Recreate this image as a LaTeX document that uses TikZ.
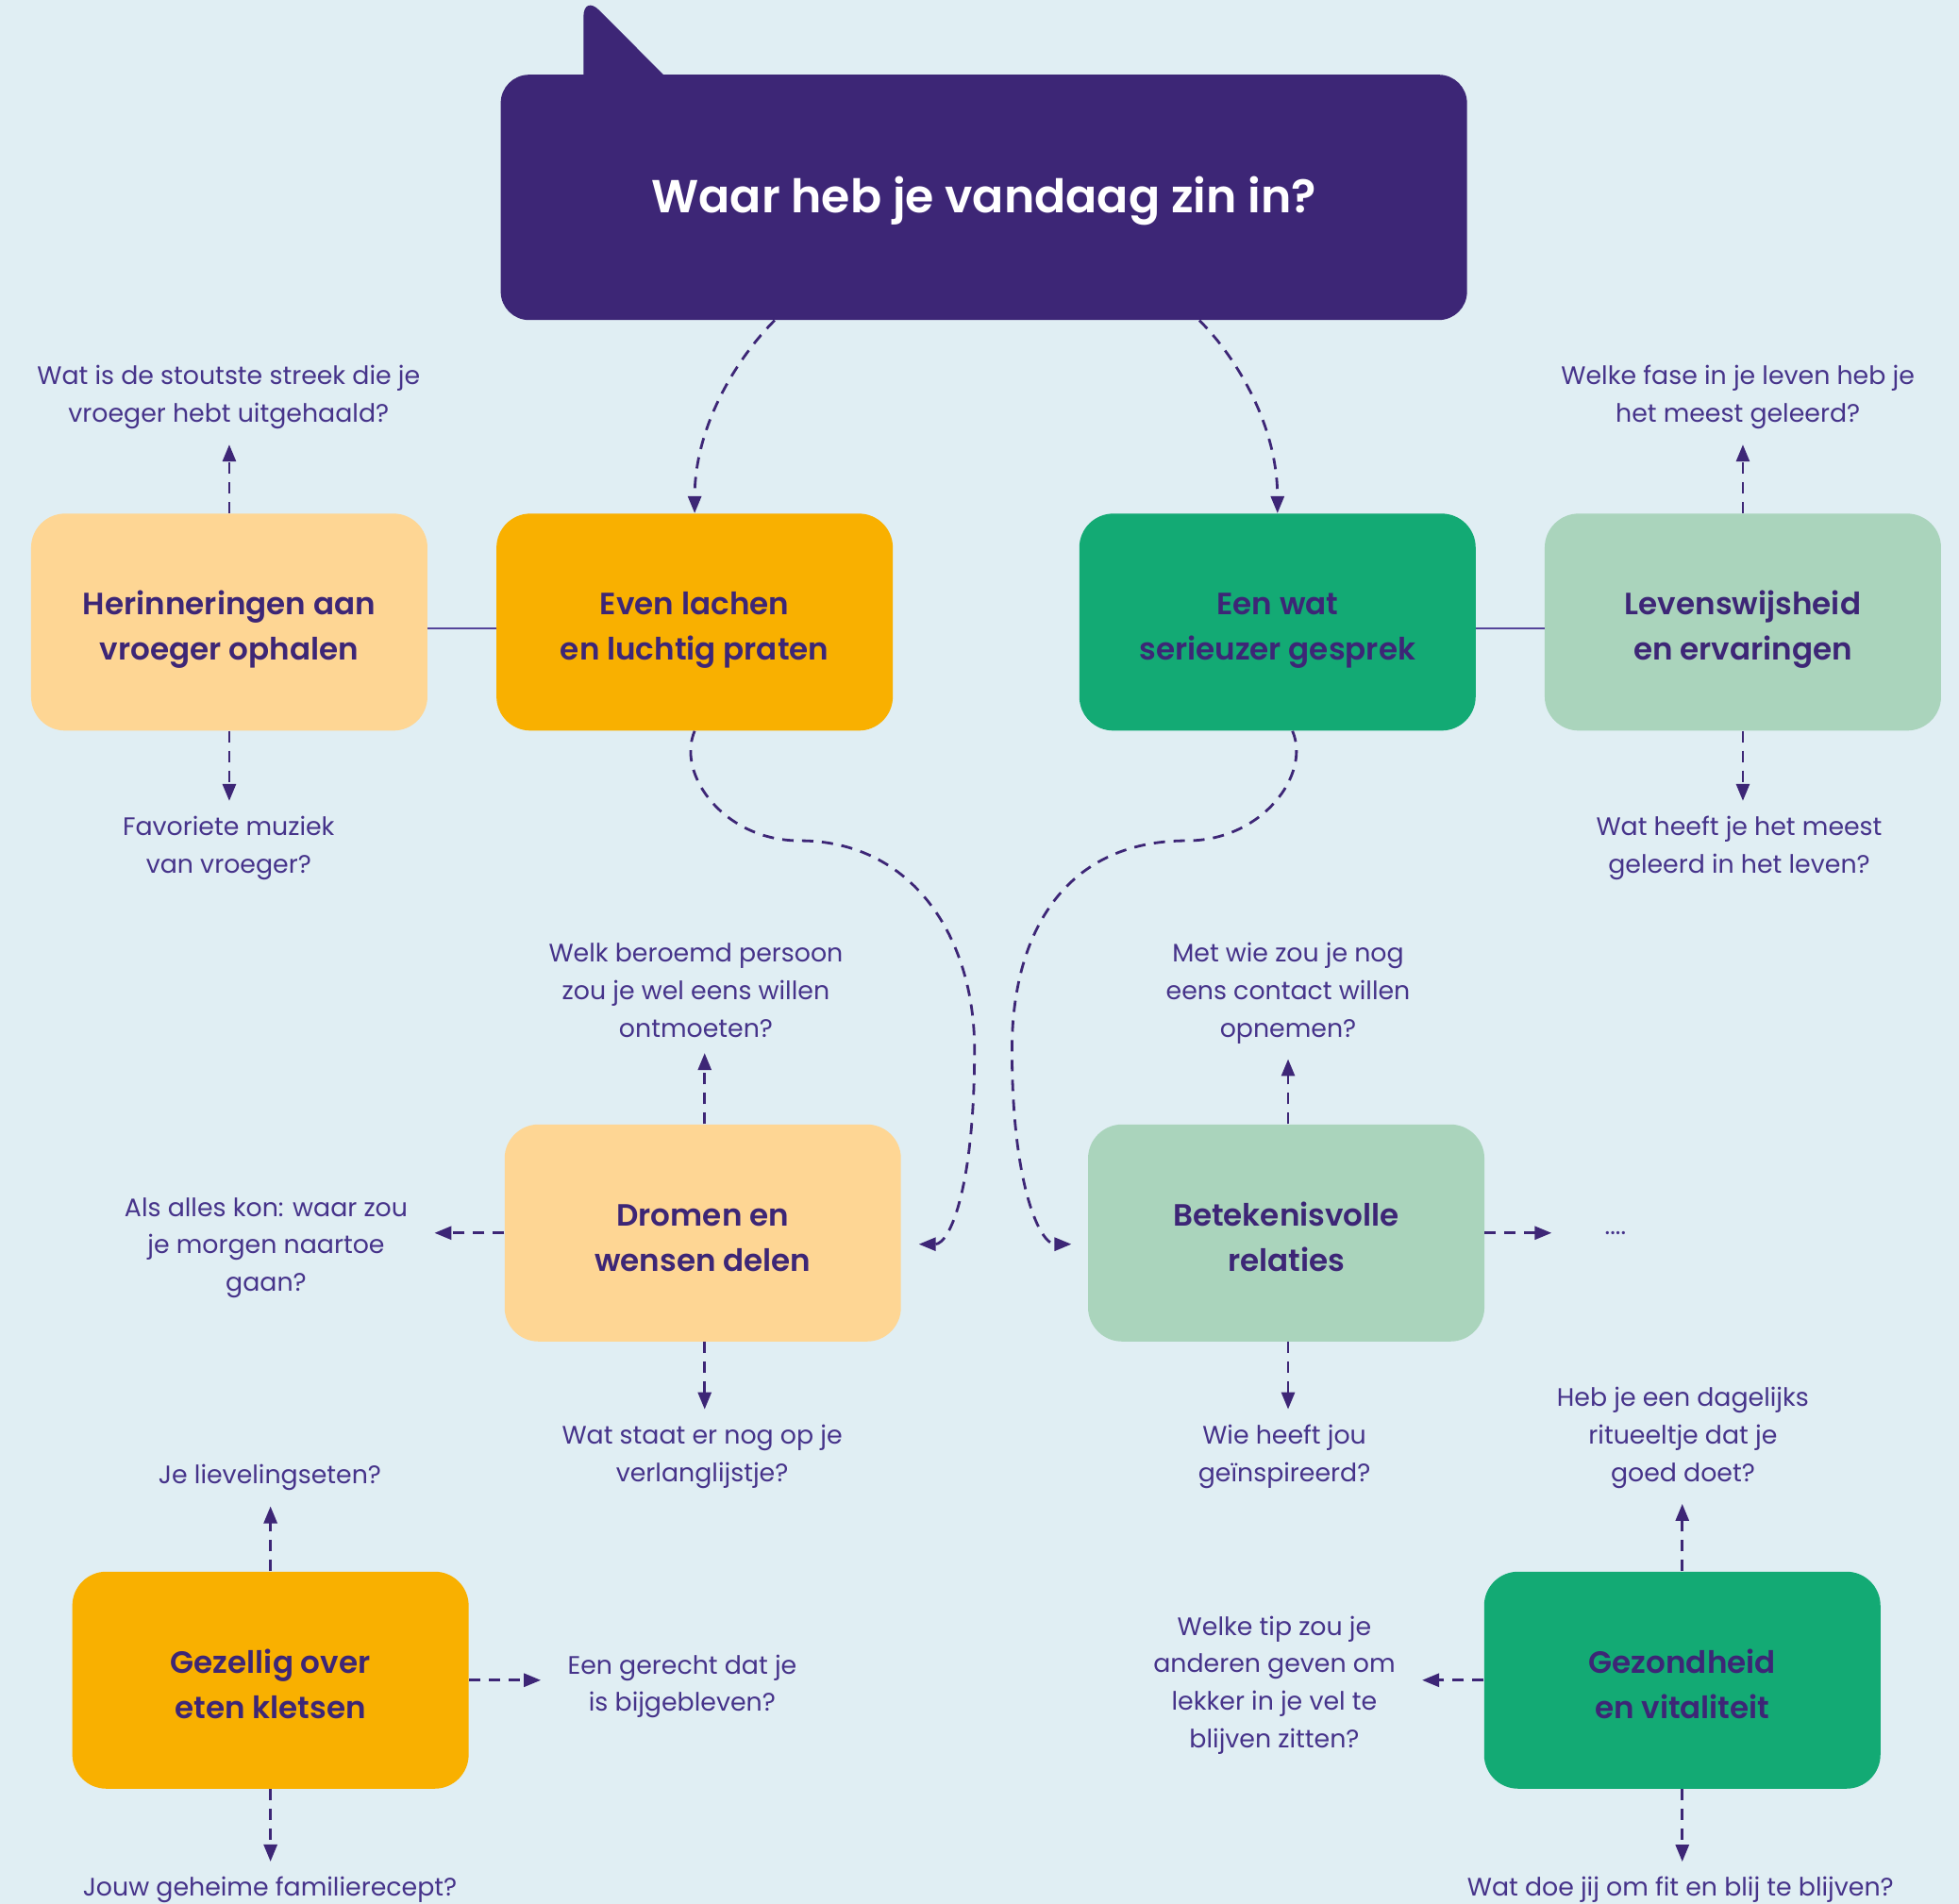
\documentclass[tikz,border=0pt]{standalone}
\usepackage{fontspec}
\setmainfont{Poppins}
\newfontfamily\semib{Poppins SemiBold}
\usetikzlibrary{arrows.meta,calc}
\definecolor{bg}{HTML}{E0EEF3}
\definecolor{pur}{HTML}{3D2676}
\definecolor{qtxt}{HTML}{46338A}
\definecolor{linkc}{HTML}{55459A}
\definecolor{orng}{HTML}{F9B000}
\definecolor{lorng}{HTML}{FED694}
\definecolor{grn}{HTML}{13AA74}
\definecolor{lgrn}{HTML}{AAD4BC}
\newcommand{\lbtop}{\rule{0pt}{20.5pt}}
\newcommand{\lbbot}{\rule[-3.5pt]{0pt}{3.5pt}}
\begin{document}
\begin{tikzpicture}[x=0.662pt,y=-0.662pt,
  box/.style={rounded corners=18pt, minimum width=210pt, minimum height=115pt, align=center,
    font=\fontsize{16.3}{24}\selectfont\semib, text=pur, inner sep=0pt},
  q/.style={align=center, font=\fontsize{13.4}{19.9}\selectfont, text=qtxt, inner xsep=14pt, inner ysep=8pt, yshift=-2pt},
  arr/.style={draw=pur, line width=1.4pt, dash pattern=on 6pt off 4.5pt, -{Triangle[length=9pt,width=7pt]}},
  link/.style={draw=linkc, line width=1.1pt}
]
\useasboundingbox (0,0) rectangle (1568,1524);
\fill[bg] (0,0) rectangle (1568,1524);
% title bubble
\fill[pur, rounded corners=12pt] (467,100) -- (467,-4.5) -- (571,100) -- cycle;
\node[fill=pur, rounded corners=15pt, minimum width=512pt, minimum height=130pt, inner sep=0pt,
  text=white, font=\fontsize{24.5}{30}\selectfont\semib] (T) at (787.5,158)
  {\raisebox{-2pt}[\height][\depth]{Waar heb je vandaag zin in?}};

% boxes
\node[box, fill=lorng] (H) at (183.5,498) {\lbtop Herinneringen aan\\vroeger ophalen\lbbot};
\node[box, fill=orng]  (E) at (556,498)   {\lbtop Even lachen\\en luchtig praten\lbbot};
\node[box, fill=grn]   (S) at (1022.5,498){\lbtop Een wat\\serieuzer gesprek\lbbot};
\node[box, fill=lgrn]  (L) at (1395,498)  {\lbtop Levenswijsheid\\en ervaringen\lbbot};
\node[box, fill=lorng] (D) at (562.5,987) {\lbtop Dromen en\\wensen delen\lbbot};
\node[box, fill=lgrn]  (B) at (1029.5,987){\lbtop Betekenisvolle\\relaties\lbbot};
\node[box, fill=orng]  (G) at (216.5,1345){\lbtop Gezellig over\\eten kletsen\lbbot};
\node[box, fill=grn]   (V) at (1346.5,1345){\lbtop Gezondheid\\en vitaliteit\lbbot};

\draw[link] ($(H.east)+(0,5)$) -- ($(E.west)+(0,5)$);
\draw[link] ($(S.east)+(0,5)$) -- ($(L.west)+(0,5)$);

% questions
\node[q] (hq1) at (183,315) {Wat is de stoutste streek die je\\vroeger hebt uitgehaald?};
\node[q] (hq2) at (183,676) {Favoriete muziek\\van vroeger?};
\node[q] (lq1) at (1391,315) {Welke fase in je leven heb je\\het meest geleerd?};
\node[q] (lq2) at (1392,676) {Wat heeft je het meest\\geleerd in het leven?};
\node[q] (dq1) at (557,790) {Welk beroemd persoon\\zou je wel eens willen\\ontmoeten?};
\node[q] (dq2) at (213,996) {Als alles kon: waar zou\\je morgen naartoe\\gaan?};
\node[q] (dq3) at (562,1163) {Wat staat er nog op je\\verlanglijstje?};
\node[q] (bq1) at (1031,792) {Met wie zou je nog\\eens contact willen\\opnemen?};
\node[q, inner xsep=28pt] (bq2) at (1293,984) {....};
\node[q] (bq3) at (1028,1163) {Wie heeft jou\\geïnspireerd?};
\node[q] (gq1) at (216,1180) {Je lievelingseten?};
\node[q] (gq2) at (546,1347) {Een gerecht dat je\\is bijgebleven?};
\node[q] (gq3) at (216,1510) {Jouw geheime familierecept?};
\node[q] (vq1) at (1347,1148) {Heb je een dagelijks\\ritueeltje dat je\\goed doet?};
\node[q] (vq2) at (1020,1346) {Welke tip zou je\\anderen geven om\\lekker in je vel te\\blijven zitten?};
\node[q] (vq3) at (1345,1510) {Wat doe jij om fit en blij te blijven?};

% arrows to questions
\draw[arr] (H.north) -- (H.north |- hq1.south);
\draw[arr] (H.south) -- (H.south |- hq2.north);
\draw[arr] (L.north) -- (L.north |- lq1.south);
\draw[arr] (L.south) -- (L.south |- lq2.north);
\draw[arr] ($(D.north)+(1.5,0)$) -- ($(D.north |- dq1.south)+(1.5,0)$);
\draw[arr] (D.west) -- (D.west -| dq2.east);
\draw[arr] ($(D.south)+(1.5,0)$) -- ($(D.south |- dq3.north)+(1.5,0)$);
\draw[arr] ($(B.north)+(1.5,0)$) -- ($(B.north |- bq1.south)+(1.5,0)$);
\draw[arr] (B.east) -- (B.east -| bq2.west);
\draw[arr] ($(B.south)+(1.5,0)$) -- ($(B.south |- bq3.north)+(1.5,0)$);
\draw[arr] (G.north) -- (G.north |- gq1.south);
\draw[arr] (G.east) -- (G.east -| gq2.west);
\draw[arr] (G.south) -- (G.south |- gq3.north);
\draw[arr] (V.north) -- (V.north |- vq1.south);
\draw[arr] (V.west) -- (V.west -| vq2.east);
\draw[arr] (V.south) -- (V.south |- vq3.north);

% curves from title
\draw[arr] ($(T.south)+(-167.5,0)$) .. controls +(-30,30) and +(0,-70) .. (E.north);
\draw[arr] ($(T.south)+(172.5,0)$) .. controls +(30,30) and +(0,-70) .. (S.north);

% long S-curves
\draw[arr] (E.south) .. controls +(-15,35) and +(-60,0) .. (640,673)
  .. controls +(90,0) and +(0,-90) .. (780,840)
  .. controls +(0,110) and +(25,0) .. ($(D.east)+(14,9)$);
\draw[arr] ($(S.south)+(12,0)$) .. controls +(15,35) and +(60,0) .. (950,673)
  .. controls +(-100,0) and +(0,-90) .. (810,840)
  .. controls +(0,110) and +(-25,0) .. ($(B.west)+(-13,9)$);
\end{tikzpicture}
\end{document}
